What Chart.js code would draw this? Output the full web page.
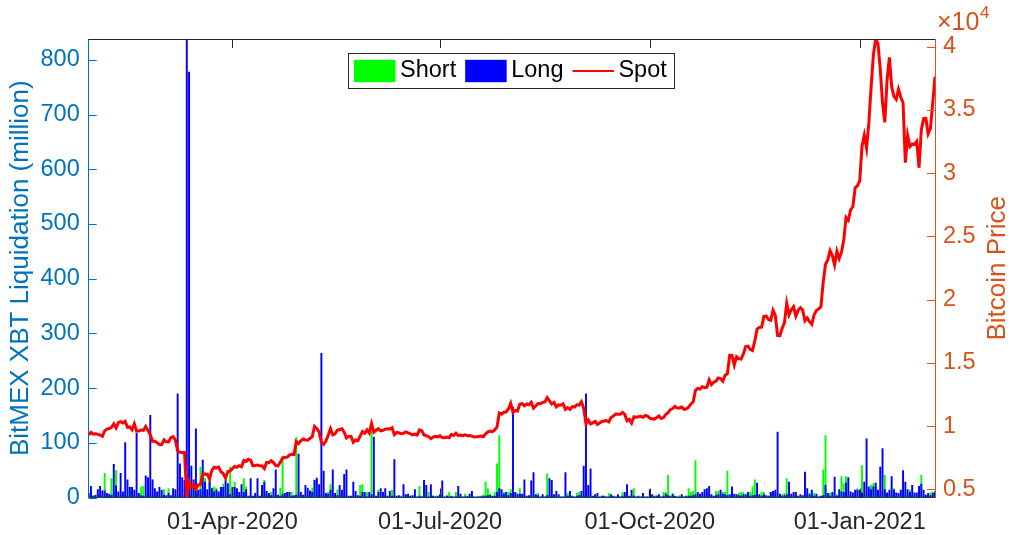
<!DOCTYPE html>
<html>
<head>
<meta charset="utf-8">
<script src="https://cdn.jsdelivr.net/npm/chart.js@4.4.1/dist/chart.umd.min.js"></script>
<style>
  html, body { margin: 0; padding: 0; background: #fff; }
  #wrap { width: 1010px; height: 535px; }
</style>
</head>
<body>
<div id="wrap"><canvas id="liqChart" width="1010" height="535"></canvas></div>
<script>
// Axis ticks
const startDate = "2020-01-29";
const xTickDates = ["2020-04-01", "2020-07-01", "2020-10-01", "2021-01-01"];
const xTickLabels = ["01-Apr-2020", "01-Jul-2020", "01-Oct-2020", "01-Jan-2021"];
const leftTicks = [0, 100, 200, 300, 400, 500, 600, 700, 800];
const rightTicks = [5000, 10000, 15000, 20000, 25000, 30000, 35000, 40000];
const rightTickLabels = ["0.5", "1", "1.5", "2", "2.5", "3", "3.5", "4"];

// Bitcoin spot price, one value per day from 29-Jan-2020
const spotPrice = [
    9300, 9500, 9350,
    // Feb 2020
    9380, 9340, 9290, 9180, 9620, 9760, 9800, 9900, 10170, 9850, 10270, 10350, 10240, 10370, 9900,
    9930, 9700, 10180, 9600, 9610, 9690, 9660, 9970, 9650, 9320, 8790, 8790, 8690, 8530,
    // Mar
    8520, 8910, 8760, 8750, 9080, 9160, 8900, 8030, 7930, 7900, 7910, 4351, 5600, 5200, 5390, 5010,
    5340, 5400, 6190, 6200, 6190, 5830, 6490, 6740, 6690, 6760, 6380, 6250, 5880, 6400, 6440,
    // Apr
    6640, 6810, 6740, 6870, 6780, 7280, 7200, 7370, 7300, 6860, 6890, 6910, 6860, 6850, 6640,
    7120, 7100, 7260, 7120, 6880, 6850, 7130, 7480, 7510, 7540, 7700, 7770, 7760, 8780, 8620,
    // May
    8830, 8970, 8900, 8880, 9030, 9150, 9980, 9810, 9540, 8720, 8560, 8810, 9270, 9790, 9310, 9380,
    9670, 9730, 9780, 9510, 9060, 9170, 9180, 8720, 8900, 8840, 9200, 9570, 9430, 9700, 9450,
    // Jun
    10200, 9520, 9670, 9790, 9620, 9670, 9760, 9780, 9770, 9870, 9320, 9480, 9470, 9390, 9430,
    9530, 9460, 9390, 9300, 9360, 9290, 9690, 9630, 9300, 9250, 9160, 9010, 9120, 9190, 9140,
    // Jul
    9230, 9090, 9070, 9130, 9080, 9340, 9250, 9430, 9240, 9290, 9240, 9300, 9240, 9250, 9200, 9130,
    9150, 9170, 9210, 9160, 9390, 9540, 9610, 9540, 9700, 9930, 11030, 10940, 11100, 11110, 11350,
    // Aug
    11800, 11070, 11230, 11190, 11740, 11770, 11600, 11750, 11680, 11880, 11410, 11580, 11780, 11770,
    11870, 11910, 12250, 11990, 11740, 11860, 11520, 11680, 11650, 11750, 11320, 11460, 11320, 11540,
    11500, 11680, 11650,
    // Sep
    11920, 11400, 10170, 10480, 10170, 10240, 10370, 10130, 10240, 10360, 10400, 10440, 10330, 10680,
    10790, 10950, 10940, 10930, 11080, 10920, 10420, 10530, 10240, 10740, 10690, 10730, 10770, 10690,
    10840, 10780,
    // Oct
    10620, 10570, 10550, 10670, 10790, 10600, 10670, 10920, 11060, 11300, 11380, 11550, 11430, 11430,
    11500, 11320, 11360, 11500, 11750, 11920, 12820, 12970, 12930, 13110, 13030, 13070, 13650, 13270,
    13460, 13560, 13800,
    // Nov
    13760, 13550, 14020, 14150, 15590, 15580, 14830, 15480, 15330, 15300, 15700, 16280, 16320, 16070,
    15970, 16730, 17660, 17800, 17820, 18680, 18700, 18430, 18370, 19160, 18740, 17150, 17140, 17720,
    18180, 19700,
    // Dec
    18800, 19200, 19440, 18700, 19150, 19360, 19170, 18320, 18550, 18250, 18040, 18800, 19140, 19250,
    19440, 21380, 22800, 23130, 23860, 23480, 22740, 23820, 23240, 23730, 24710, 26490, 26280, 27080,
    27360, 28840, 29000,
    // Jan 2021
    29370, 32130, 33000, 31970, 33970, 36820, 39370, 40602, 40240, 38240, 35540, 34010, 37390, 39150,
    36830, 36070, 35830, 36630, 36000, 35540, 30830, 32990, 32100, 32290, 32260, 32500, 30420, 33420,
    34300, 34320, 33110,
    // Feb 2021
    33540, 35520, 37620
];

// Short liquidations (million), per day
const shortLiq = [
    2, 3, 4,
    2, 6, 3, 4, 45, 2, 3, 35, 8, 50, 3, 5, 2, 4, 3, 20, 4, 6, 3, 2, 20, 21, 4, 3, 5, 2, 3, 4, 3,
    2, 15, 2, 17, 3, 2, 3, 2, 3, 2, 4, 5, 10, 20, 12, 8, 6, 56, 20, 35, 4, 29, 18, 20, 17, 3, 5, 25, 4, 15, 56,
    3, 29, 4, 3, 8, 35, 20, 2, 3, 2, 4, 3, 2, 16, 32, 5, 4, 10, 3, 4, 2, 18, 75, 3, 10, 10, 10, 3, 110, 6,
    4, 2, 5, 4, 3, 18, 33, 5, 4, 6, 3, 2, 10, 24, 3, 2, 14, 5, 3, 4, 3, 2, 2, 4, 3, 2, 23, 24, 3, 10, 3,
    123, 5, 2, 14, 3, 2, 4, 2, 3, 14, 3, 2, 2, 3, 4, 2, 3, 2, 3, 4, 2, 21, 3, 4, 3, 10, 3, 3, 3, 2,
    3, 4, 2, 4, 10, 2, 2, 10, 3, 2, 2, 7, 2, 2, 3, 2, 2, 3, 3, 5, 29, 17, 7, 2, 10, 62, 114, 6, 10, 9, 10,
    15, 5, 8, 3, 17, 3, 4, 2, 3, 3, 4, 3, 8, 2, 3, 2, 44, 5, 4, 3, 2, 3, 2, 2, 4, 8, 3, 2, 2, 8, 10,
    4, 5, 6, 4, 3, 2, 3, 2, 2, 3, 2, 2, 8, 2, 2, 2, 3, 2, 10, 3, 4, 2, 3, 17, 2, 2, 2, 3, 2, 2,
    3, 2, 2, 4, 3, 2, 10, 10, 41, 2, 8, 2, 2, 4, 2, 2, 3, 17, 10, 12, 68, 3, 4, 3, 6, 4, 3, 2, 2, 12, 12,
    4, 10, 10, 49, 3, 4, 3, 2, 8, 10, 10, 3, 4, 10, 20, 33, 5, 3, 10, 10, 3, 2, 10, 10, 5, 4, 3, 6, 8, 35,
    5, 3, 4, 3, 2, 3, 2, 5, 4, 8, 3, 8, 3, 3, 2, 51, 114, 7, 8, 3, 4, 6, 3, 39, 26, 39, 4, 3, 2, 4, 17,
    4, 59, 6, 8, 5, 23, 26, 21, 5, 6, 10, 41, 4, 6, 5, 17, 3, 4, 5, 39, 6, 5, 14, 4, 3, 4, 6, 41, 5, 3, 4,
    9, 11, 5
];

// Long liquidations (million), per day
const longLiq = [
    8, 21, 3,
    5, 15, 21, 13, 13, 8, 7, 5, 61, 22, 11, 45, 11, 101, 33, 19, 19, 14, 118, 8, 4, 3, 40, 37, 151, 33, 17, 11, 19,
    14, 5, 4, 8, 4, 17, 15, 190, 62, 37, 32, 838, 778, 58, 33, 126, 14, 15, 69, 29, 15, 33, 17, 11, 14, 11, 19, 19, 32, 26, 6,
    19, 19, 17, 10, 24, 10, 15, 3, 35, 3, 8, 35, 3, 23, 29, 12, 8, 4, 17, 51, 5, 3, 7, 8, 10, 10, 3, 4, 5, 80,
    10, 5, 23, 18, 13, 10, 32, 36, 24, 264, 49, 8, 7, 14, 51, 8, 4, 23, 14, 43, 51, 3, 3, 29, 12, 4, 3, 10, 10, 2, 10,
    6, 111, 3, 10, 17, 10, 17, 3, 12, 3, 70, 3, 4, 2, 24, 6, 7, 3, 4, 15, 2, 3, 2, 32, 23, 2, 24, 3, 2, 3,
    6, 31, 2, 3, 2, 3, 2, 2, 21, 7, 2, 2, 3, 7, 12, 2, 2, 2, 2, 3, 3, 4, 4, 3, 3, 10, 17, 15, 7, 10, 4,
    8, 166, 10, 7, 7, 7, 33, 3, 4, 31, 46, 6, 4, 2, 6, 2, 4, 35, 32, 6, 12, 6, 2, 2, 46, 3, 12, 3, 2, 3, 4,
    12, 58, 190, 23, 53, 3, 6, 8, 2, 3, 3, 2, 2, 6, 3, 2, 6, 2, 3, 10, 24, 3, 14, 3, 2, 3, 2, 8, 2, 2,
    15, 6, 3, 3, 6, 2, 3, 7, 4, 3, 6, 3, 2, 2, 6, 2, 3, 3, 3, 4, 6, 10, 7, 10, 15, 17, 21, 6, 3, 4, 6,
    14, 7, 6, 4, 6, 20, 7, 6, 4, 3, 6, 6, 10, 3, 4, 5, 27, 6, 3, 6, 4, 3, 10, 12, 14, 120, 7, 3, 4, 6,
    29, 7, 10, 10, 3, 6, 4, 47, 17, 6, 14, 3, 7, 2, 3, 4, 23, 8, 3, 10, 38, 3, 15, 11, 10, 27, 37, 11, 9, 14, 14,
    14, 9, 29, 108, 20, 15, 20, 27, 14, 56, 90, 15, 9, 14, 39, 14, 9, 8, 14, 50, 29, 15, 10, 23, 9, 9, 21, 25, 14, 5, 8,
    4, 8, 11
];

// Colours (MATLAB defaults)
const leftColor = "#0072BD";
const rightColor = "#D95319";
const axisColor = "#262626";
const fontFamily = "'Liberation Sans', Arial, Helvetica, sans-serif";

// Day numbers counted from 01-Jan-2020
const DAY = 86400000;
const origin = Date.UTC(2020, 0, 1);
function dayNum(s) {
    return (Date.parse(s + "T00:00:00Z") - origin) / DAY;
}
const firstDay = dayNum(startDate);
const days = spotPrice.map((_, i) => firstDay + i);
const xTickDays = xTickDates.map(dayNum);

const toPoints = (arr) => arr.map((v, i) => ({ x: days[i], y: v }));

// Draw the MATLAB-like box, inner ticks, legend and right label
const matlabAxes = {
    id: "matlabAxes",
    afterDraw(chart) {
        const { ctx, chartArea: a, scales } = chart;
        const seg = (x1, y1, x2, y2) => {
            ctx.beginPath();
            ctx.moveTo(x1, y1);
            ctx.lineTo(x2, y2);
            ctx.stroke();
        };
        ctx.save();
        ctx.lineWidth = 1;

        // top edge of the box
        ctx.strokeStyle = axisColor;
        seg(a.left, a.top + 0.5, a.right, a.top + 0.5);

        // x ticks, pointing inwards at bottom and top
        scales.x.ticks.forEach(t => {
            const px = Math.round(scales.x.getPixelForValue(t.value)) + 0.5;
            seg(px, a.bottom, px, a.bottom - 9);
            seg(px, a.top, px, a.top + 9);
        });

        // left ticks
        ctx.strokeStyle = leftColor;
        scales.y.ticks.forEach(t => {
            const py = Math.round(scales.y.getPixelForValue(t.value)) + 0.5;
            seg(a.left, py, a.left + 8, py);
        });

        // right ticks
        ctx.strokeStyle = rightColor;
        scales.y1.ticks.forEach(t => {
            const py = Math.round(scales.y1.getPixelForValue(t.value)) + 0.5;
            seg(a.right, py, a.right - 8, py);
        });

        // right axis label, reading bottom to top
        ctx.fillStyle = rightColor;
        ctx.font = "26px " + fontFamily;
        ctx.textAlign = "center";
        ctx.textBaseline = "middle";
        ctx.save();
        ctx.translate(998, (a.top + a.bottom) / 2);
        ctx.rotate(-Math.PI / 2);
        ctx.fillText("Bitcoin Price", 0, 0);
        ctx.restore();

        // exponent label
        ctx.textAlign = "left";
        ctx.font = "25px " + fontFamily;
        ctx.fillText("\u00d710", 937, 23);
        ctx.font = "17px " + fontFamily;
        ctx.fillText("4", 980, 13);

        // legend box
        const box = { x: 348.5, y: 53.5, w: 326, h: 35 };
        ctx.fillStyle = "#fff";
        ctx.fillRect(box.x, box.y, box.w, box.h);
        ctx.strokeStyle = axisColor;
        ctx.strokeRect(box.x, box.y, box.w, box.h);
        ctx.font = "23.5px " + fontFamily;
        ctx.textBaseline = "middle";
        const cy = box.y + box.h / 2;
        let x = box.x + 5.5;
        chart.data.datasets.forEach(ds => {
            if (ds.type === "line") {
                ctx.strokeStyle = ds.borderColor;
                ctx.lineWidth = 2;
                seg(x, cy, x + 41.5, cy);
            } else {
                ctx.fillStyle = ds.backgroundColor;
                ctx.fillRect(x, cy - 11.2, 41.5, 22.4);
            }
            x += 41.5 + 4.5;
            ctx.fillStyle = "#000";
            ctx.fillText(ds.label, x, cy);
            x += ctx.measureText(ds.label).width + 9;
        });
        ctx.restore();
    }
};

const ctx = document.getElementById("liqChart").getContext("2d");
const liqChart = new Chart(ctx, {
    type: "bar",
    data: {
        datasets: [
            {
                type: "bar",
                label: "Short",
                data: toPoints(shortLiq),
                backgroundColor: "#00FF00",
                yAxisID: "y",
                grouped: false,
                barPercentage: 0.85,
                categoryPercentage: 1,
                order: 2
            },
            {
                type: "bar",
                label: "Long",
                data: toPoints(longLiq),
                backgroundColor: "#0000FF",
                yAxisID: "y",
                grouped: false,
                barPercentage: 0.85,
                categoryPercentage: 1,
                order: 1
            },
            {
                type: "line",
                label: "Spot",
                data: toPoints(spotPrice),
                borderColor: "#FF0000",
                borderWidth: 3,
                pointRadius: 0,
                tension: 0,
                yAxisID: "y1",
                order: 0
            }
        ]
    },
    options: {
        responsive: false,
        animation: false,
        devicePixelRatio: 1,
        layout: { padding: { top: 39, left: 0, right: 0, bottom: 0 } },
        plugins: {
            legend: { display: false },
            tooltip: { enabled: false }
        },
        scales: {
            x: {
                type: "linear",
                min: days[0],
                max: days[days.length - 1],
                offset: false,
                grid: { display: false, drawTicks: false },
                border: { display: true, color: axisColor, width: 1 },
                afterBuildTicks: (s) => { s.ticks = xTickDays.map(v => ({ value: v })); },
                afterFit: (s) => { s.height = 37.5; },
                ticks: {
                    autoSkip: false,
                    maxRotation: 0,
                    padding: 11,
                    color: axisColor,
                    font: { family: fontFamily, size: 23.5 },
                    callback: (v, i) => xTickLabels[i]
                }
            },
            y: {
                position: "left",
                min: 0,
                max: Math.max(...longLiq),
                grid: { display: false, drawTicks: false },
                border: { display: true, color: leftColor, width: 1 },
                afterBuildTicks: (s) => { s.ticks = leftTicks.map(v => ({ value: v })); },
                afterFit: (s) => { s.width = 88.7; },
                ticks: {
                    padding: 9,
                    color: leftColor,
                    font: { family: fontFamily, size: 23.5 },
                    callback: (v) => String(v)
                },
                title: {
                    display: true,
                    text: "BitMEX XBT Liquidation (million)",
                    color: leftColor,
                    font: { family: fontFamily, size: 26 },
                    padding: { top: 5, bottom: 0 }
                }
            },
            y1: {
                position: "right",
                min: Math.min(...spotPrice),
                max: Math.max(...spotPrice),
                grid: { display: false, drawTicks: false },
                border: { display: true, color: rightColor, width: 1 },
                afterBuildTicks: (s) => { s.ticks = rightTicks.map(v => ({ value: v })); },
                afterFit: (s) => { s.width = 75; },
                ticks: {
                    padding: 8,
                    color: rightColor,
                    font: { family: fontFamily, size: 23.5 },
                    callback: (v, i) => rightTickLabels[i]
                }
            }
        }
    },
    plugins: [matlabAxes]
});
</script>
</body>
</html>
